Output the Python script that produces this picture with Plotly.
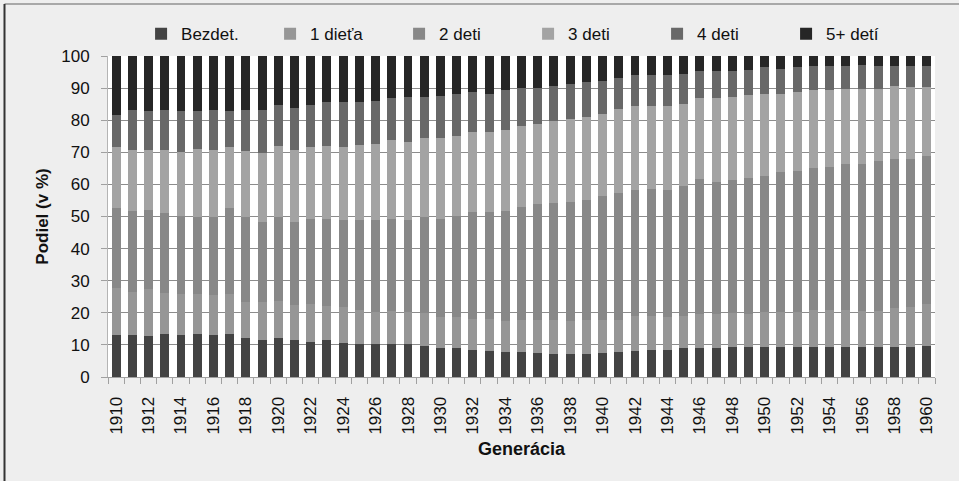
import plotly.graph_objects as go

years = list(range(1910, 1961))

bezdet = [13.0, 13.0, 12.7, 13.3, 13.0, 13.5, 13.0, 13.3, 12.3, 11.5, 12.0, 11.5, 10.9, 11.5, 10.6, 10.4, 10.2,
          10.4, 10.2, 9.8, 8.9, 8.9, 8.5, 8.2, 7.8, 7.8, 7.5, 7.3, 7.3, 7.3, 7.5, 7.8, 8.2, 8.5, 8.5, 9.1, 8.9,
          9.1, 9.4, 9.2, 9.2, 9.2, 9.2, 9.4, 9.4, 9.4, 9.2, 9.2, 9.2, 9.2, 9.8]
jedno = [14.8, 13.6, 14.8, 13.0, 12.9, 12.4, 12.5, 12.6, 11.1, 11.9, 11.8, 10.9, 11.8, 10.6, 11.1, 10.6, 10.0,
         10.1, 9.9, 10.0, 9.9, 9.9, 9.7, 10.0, 9.7, 10.1, 10.4, 10.6, 10.2, 10.6, 10.4, 10.1, 10.9, 10.6, 10.3,
         10.0, 10.6, 10.4, 10.4, 10.3, 11.0, 11.0, 11.0, 11.4, 11.4, 11.4, 11.3, 11.3, 12.4, 12.7, 12.9]
dve = [24.8, 25.0, 24.4, 24.7, 24.3, 24.1, 24.2, 26.7, 26.3, 25.0, 25.9, 25.8, 26.6, 27.2, 27.3, 28.0, 28.8,
       28.8, 28.9, 29.9, 30.5, 31.4, 33.1, 33.1, 34.1, 35.2, 36.0, 36.3, 36.9, 37.2, 38.4, 39.4, 39.2, 39.5,
       39.5, 40.5, 42.3, 41.1, 41.7, 42.5, 42.5, 43.8, 44.1, 44.4, 44.7, 45.7, 46.0, 46.7, 46.3, 46.0, 46.3]
tri = [19.0, 19.2, 18.9, 19.8, 19.8, 21.0, 21.1, 19.2, 20.6, 21.4, 22.2, 22.4, 22.3, 22.6, 22.6, 23.3, 23.6,
       24.6, 24.3, 24.7, 25.1, 24.9, 25.1, 25.1, 25.5, 25.2, 25.0, 25.4, 25.9, 26.0, 25.7, 26.2, 26.0, 25.9,
       26.2, 25.6, 25.0, 26.2, 25.7, 25.7, 25.6, 24.3, 24.5, 24.1, 23.8, 23.3, 23.3, 22.6, 22.7, 22.4, 21.3]
styri = [10.1, 12.4, 12.2, 12.4, 13.0, 12.0, 12.4, 11.2, 12.9, 13.4, 12.7, 13.3, 13.0, 13.7, 14.0, 13.3, 13.3,
         12.9, 13.9, 12.8, 13.1, 13.2, 12.4, 11.9, 12.2, 11.7, 11.1, 11.2, 11.0, 10.9, 10.2, 9.6, 9.7, 9.5,
         9.5, 9.3, 8.4, 8.4, 8.2, 7.9, 8.2, 7.7, 7.7, 7.6, 7.6, 7.1, 7.3, 7.1, 6.3, 6.6, 6.6]
pat_plus = [18.3, 16.8, 17.0, 16.8, 17.0, 17.0, 16.8, 17.0, 16.8, 16.8, 15.4, 16.1, 15.4, 14.4, 14.4, 14.4,
            14.1, 13.2, 12.8, 12.8, 12.5, 11.7, 11.2, 11.7, 10.7, 10.0, 10.0, 9.2, 8.7, 8.0, 7.8, 6.9, 6.0,
            6.0, 6.0, 5.5, 4.8, 4.8, 4.6, 4.4, 3.5, 4.0, 3.5, 3.1, 3.1, 3.1, 2.9, 3.1, 3.1, 3.1, 3.1]

series_names = ["Bezdet.", "1 dieťa", "2 deti", "3 deti", "4 deti", "5+ detí"]
series_values = [bezdet, jedno, dve, tri, styri, pat_plus]
series_colors = ["#434343", "#969696", "#888888", "#a3a3a3", "#686868", "#262626"]

tick_years = [y for y in years if y % 2 == 0]
tick_labels = [str(y) for y in tick_years]

FONT = "Liberation Sans, Arial, sans-serif"

fig = go.Figure()
for name, vals, col in zip(series_names, series_values, series_colors):
    fig.add_trace(go.Bar(x=years, y=vals, name=name, marker=dict(color=col, line=dict(width=0))))

fig.update_layout(
    width=959, height=481,
    barmode="stack", bargap=0.45,
    paper_bgcolor="#eeeeee", plot_bgcolor="#ffffff",
    margin=dict(l=108, r=24, t=56, b=104),
    font=dict(family=FONT, color="#111111", size=17),
    legend=dict(orientation="h", x=0.04, xanchor="left", y=1.068, yanchor="middle",
                font=dict(size=17, family=FONT), entrywidth=84, entrywidthmode="pixels",
                bgcolor="rgba(0,0,0,0)", itemsizing="constant", traceorder="normal"),
    xaxis=dict(range=[1909.5, 1960.5], tickmode="array", tickvals=tick_years, ticktext=tick_labels,
               tickangle=-90, ticks="", showgrid=False, showline=True, linecolor="#a0a0a0",
               tickfont=dict(size=17), ticklabelstandoff=12,
               minor=dict(tick0=1909.5, dtick=1, ticks="outside", ticklen=6, tickcolor="#a0a0a0", showgrid=False),
               title=dict(text="<b>Generácia</b>", font=dict(size=18), standoff=8), zeroline=False),
    yaxis=dict(range=[0, 100], dtick=10, ticks="outside", ticklen=6, tickcolor="#a0a0a0",
               showline=True, linecolor="#b4b4b4", gridcolor="#8c8c8c", gridwidth=1,
               tickfont=dict(size=17), ticklabelstandoff=8,
               title=dict(text="<b>Podiel (v %)</b>", font=dict(size=17), standoff=8), zeroline=False),
    shapes=[
        dict(type="line", xref="paper", yref="paper", x0=(4.5 - 108) / 827, x1=(959 - 108) / 827,
             y0=1 + (56 - 4) / 321, y1=1 + (56 - 4) / 321, line=dict(color="#a8a8a8", width=2)),
        dict(type="line", xref="paper", yref="paper", x0=(4.5 - 108) / 827, x1=(4.5 - 108) / 827,
             y0=1 + (56 - 4) / 321, y1=-(481 - 377) / 321, line=dict(color="#333333", width=2)),
    ],
)

fig.write_html("out.html")
